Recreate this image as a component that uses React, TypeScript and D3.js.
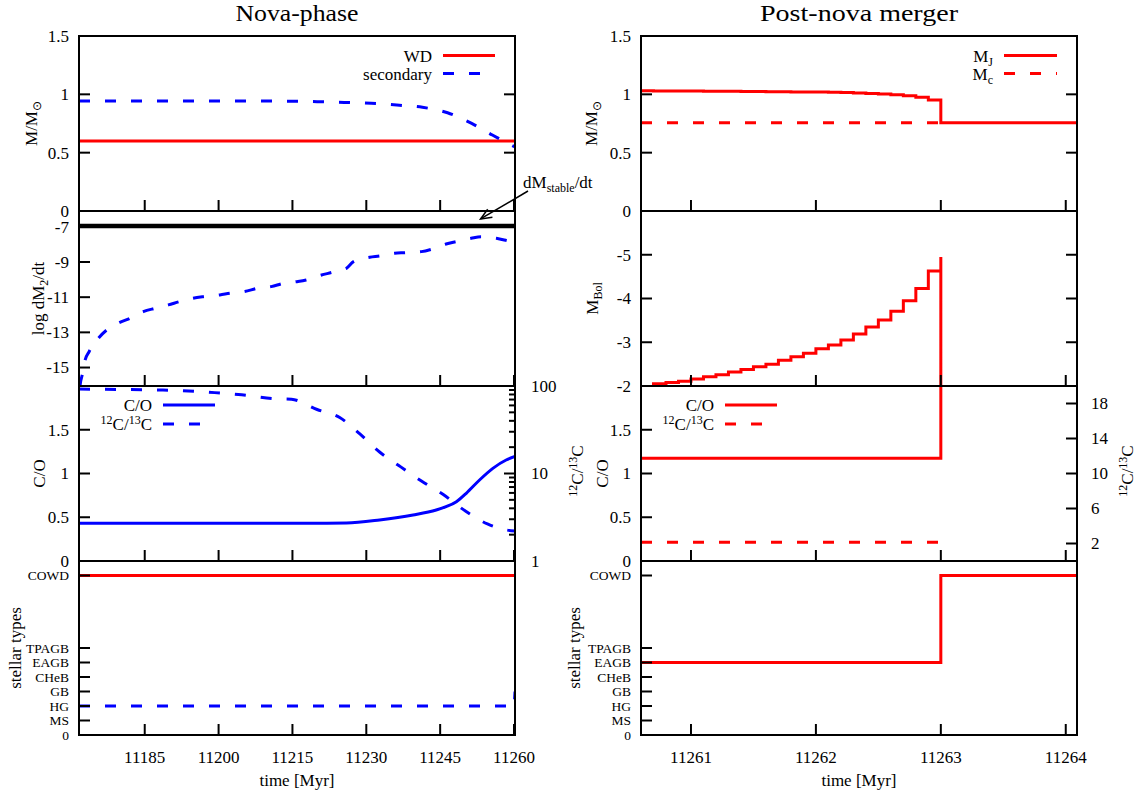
import React from 'react';
import * as d3 from 'd3';

// ---------- data ----------
const leftDomain = [11171.65, 11260.2];
const rightDomain = [11260.6, 11264.09];
const leftTimeTicks = [11185, 11200, 11215, 11230, 11245, 11260];
const rightTimeTicks = [11261, 11262, 11263, 11264];

const massTicks = [0, 0.5, 1, 1.5];
const massTickLabels = ['0', '0.5', '1', '1.5'];
const dmTicks = [-7, -9, -11, -13, -15];
const mbolTicks = [-5, -4, -3, -2];
const coTicks = [0, 0.5, 1, 1.5];
const coTickLabels = ['0', '0.5', '1', '1.5'];
const ratioLogTicks = [1, 10, 100];
const ratioLinTicks = [2, 6, 10, 14, 18];
const typeTicks = [0, 1, 2, 3, 4, 5, 6, 11];
const typeLabels = ['0', 'MS', 'HG', 'GB', 'CHeB', 'EAGB', 'TPAGB', 'COWD'];

// Nova phase: masses
const wdMassTime = [11171.65, 11260.2];
const wdMass = [0.6, 0.6];
const secMassTime = [11171.65, 11200, 11214.5, 11220, 11225.5, 11231.0, 11236.2, 11241.4, 11246.5, 11251.4, 11255.6, 11260.1];
const secMass = [0.943, 0.943, 0.941, 0.937, 0.931, 0.923, 0.908, 0.889, 0.842, 0.751, 0.651, 0.551];

// Nova phase: log dM2/dt and stable rate
const dmStableTime = [11171.65, 11260.2];
const dmStable = [-6.95, -6.95];
const dmTime = [11171.65, 11171.85, 11172.4, 11172.9, 11173.7, 11175.6, 11177.3, 11179.6, 11182.0, 11184.7, 11187.1, 11189.8, 11192.1, 11194.8, 11196.9, 11200.25, 11202.3, 11205.3, 11208.0, 11210.7, 11213.1, 11215.8, 11217.8, 11220.9, 11222.9, 11225.95, 11227.4, 11230.7, 11232.7, 11235.75, 11237.8, 11241.2, 11243.2, 11246.2, 11248.3, 11251.3, 11253.3, 11256.4, 11259.4, 11260.2];
const dmRate = [-17.5, -16.07, -15.32, -14.57, -14.1, -13.33, -12.86, -12.48, -12.2, -11.82, -11.63, -11.44, -11.25, -11.06, -10.97, -10.87, -10.78, -10.68, -10.49, -10.4, -10.22, -10.12, -10.02, -9.74, -9.6, -9.36, -8.98, -8.73, -8.66, -8.5, -8.47, -8.41, -8.28, -7.98, -7.84, -7.65, -7.56, -7.65, -7.84, -7.88];

// Nova phase: C/O and 12C/13C
const coTime = [11171.65, 11222.0, 11225.95, 11232.7, 11239.5, 11244.2, 11246.2, 11248.3, 11250.3, 11253.0, 11255.7, 11258.4, 11260.2];
const coRatio = [0.431, 0.431, 0.433, 0.469, 0.526, 0.583, 0.621, 0.678, 0.774, 0.926, 1.059, 1.154, 1.195];
const cRatioTime = [11171.65, 11173.9, 11188.7, 11199.2, 11204.7, 11211.4, 11214.8, 11220.0, 11224.6, 11228.7, 11232.7, 11237.0, 11241.2, 11245.7, 11250.2, 11254.6, 11258.5, 11260.2];
const cRatio = [92.4, 92, 90, 84, 79.3, 71.6, 70.6, 53.9, 43.6, 28.3, 17.6, 11.9, 8.2, 5.7, 3.7, 2.65, 2.26, 2.2];

// Nova phase: stellar types
const wdTypeTime = [11171.65, 11260.2];
const wdType = [11, 11];
const secTypeTime = [11171.65, 11260.05, 11260.2];
const secType = [2, 2, 3];

// Post-nova merger
const mjTime = [11260.6, 11260.7, 11260.8, 11260.9, 11261.0, 11261.1, 11261.2, 11261.3, 11261.4, 11261.5, 11261.6, 11261.7, 11261.8, 11261.9, 11262.0, 11262.1, 11262.2, 11262.3, 11262.4, 11262.5, 11262.6, 11262.7, 11262.8, 11262.9, 11263.0, 11264.09];
const mjMass = [1.030, 1.029, 1.029, 1.028, 1.028, 1.027, 1.026, 1.026, 1.025, 1.024, 1.023, 1.022, 1.021, 1.020, 1.019, 1.017, 1.015, 1.012, 1.008, 1.003, 0.997, 0.988, 0.974, 0.952, 0.757, 0.757];
const mcTime = [11260.6, 11263.0];
const mcMass = [0.757, 0.757];

const mbolTime = [11260.6, 11260.7, 11260.8, 11260.9, 11261.0, 11261.1, 11261.2, 11261.3, 11261.4, 11261.5, 11261.6, 11261.7, 11261.8, 11261.9, 11262.0, 11262.1, 11262.2, 11262.3, 11262.4, 11262.5, 11262.6, 11262.7, 11262.8, 11262.9, 11263.0, 11263.0];
const mbol = [-1.95, -2.05, -2.08, -2.11, -2.16, -2.21, -2.26, -2.32, -2.38, -2.44, -2.50, -2.59, -2.67, -2.75, -2.85, -2.94, -3.05, -3.19, -3.35, -3.51, -3.71, -3.95, -4.23, -4.63, -4.95, 12];

const mergerCoTime = [11260.6, 11263.0, 11263.0];
const mergerCo = [1.174, 1.174, 5];
const mergerCRatioTime = [11260.6, 11263.0];
const mergerCRatio = [2.15, 2.15];

const mergerTypeTime = [11260.6, 11263.0, 11263.0, 11264.09];
const mergerType = [5, 5, 11, 11];

// ---------- layout ----------
const FONT = '"Liberation Serif", "Times New Roman", Times, serif';
const RED = '#ff0000';
const BLUE = '#0000ff';
const DASH = '11,15';
const LX0 = 79, LX1 = 515, RX0 = 641, RX1 = 1077;
const ROWS = [36, 211, 386, 561, 735];
const TL = 11;

function path(ts: number[], vs: number[], x: any, y: any, curve: any = d3.curveLinear) {
  return d3.line<number>().x((_, i) => x(ts[i])).y((_, i) => y(vs[i])).curve(curve)(ts) || '';
}

export default function App() {
  const lx = d3.scaleLinear().domain(leftDomain).range([LX0, LX1]);
  const rx = d3.scaleLinear().domain(rightDomain).range([RX0, RX1]);
  const yMass = d3.scaleLinear().domain([0, 1.5]).range([ROWS[1], ROWS[0]]);
  const yDm = d3.scaleLinear().domain([-16.05, -6.1]).range([ROWS[2], ROWS[1]]);
  const yBol = d3.scaleLinear().domain([-2, -6]).range([ROWS[2], ROWS[1]]);
  const yCo = d3.scaleLinear().domain([0, 2]).range([ROWS[3], ROWS[2]]);
  const yLog = d3.scaleLog().domain([1, 100]).range([ROWS[3], ROWS[2]]);
  const yLin = d3.scaleLinear().domain([0, 20]).range([ROWS[3], ROWS[2]]);
  const yType = d3.scaleLinear().domain([0, 12]).range([ROWS[4], ROWS[3]]);

  const els: any[] = [];
  let k = 0;
  const key = () => 'k' + (k++);

  const tickLine = (x1: number, y1: number, x2: number, y2: number, w = 2) =>
    els.push(<line key={key()} x1={x1} y1={y1} x2={x2} y2={y2} stroke="#000" strokeWidth={w} />);

  const txt = (x: number, y: number, s: any, anchor = 'middle', size = 17, extra: any = {}) =>
    els.push(<text key={key()} x={x} y={y} textAnchor={anchor} fontSize={size} fontFamily={FONT} fill="#000" {...extra}>{s}</text>);

  const rot = (x: number, y: number, content: any, size = 17) =>
    els.push(<text key={key()} transform={`translate(${x},${y}) rotate(-90)`} textAnchor="middle" fontSize={size} fontFamily={FONT} fill="#000">{content}</text>);

  // x ticks (bottom of each panel, inward)
  for (let r = 1; r <= 4; r++) {
    leftTimeTicks.forEach(t => tickLine(lx(t), ROWS[r], lx(t), ROWS[r] - TL));
    rightTimeTicks.forEach(t => tickLine(rx(t), ROWS[r], rx(t), ROWS[r] - TL));
  }
  leftTimeTicks.forEach(t => txt(lx(t), 763, String(t)));
  rightTimeTicks.forEach(t => txt(rx(t), 763, String(t)));
  txt((LX0 + LX1) / 2, 786, 'time [Myr]');
  txt((RX0 + RX1) / 2, 786, 'time [Myr]');

  // titles
  txt((LX0 + LX1) / 2, 21, 'Nova-phase', 'middle', 24, { textLength: 123, lengthAdjust: 'spacingAndGlyphs' });
  txt((RX0 + RX1) / 2, 21, 'Post-nova merger', 'middle', 24, { textLength: 198, lengthAdjust: 'spacingAndGlyphs' });

  const yAxis = (y: any, vals: number[], labels: string[], x0: number, x1: number | null, size = 17) => {
    vals.forEach((v, i) => {
      tickLine(x0, y(v), x0 + TL, y(v));
      if (x1 !== null) tickLine(x1, y(v), x1 - TL, y(v));
      txt(x0 - 10, y(v), labels[i], 'end', size, { dy: '0.35em' });
    });
  };

  // row 1 mass
  yAxis(yMass, massTicks, massTickLabels, LX0, LX1);
  yAxis(yMass, massTicks, massTickLabels, RX0, RX1);
  // row 2
  yAxis(yDm, dmTicks, dmTicks.map(String), LX0, null);
  yAxis(yBol, mbolTicks, mbolTicks.map(String), RX0, RX1);
  // row 3
  yAxis(yCo, coTicks, coTickLabels, LX0, null);
  yAxis(yCo, coTicks, coTickLabels, RX0, null);
  ratioLogTicks.forEach(v => {
    tickLine(LX1, yLog(v), LX1 - TL, yLog(v));
    txt(LX1 + 16, yLog(v), String(v), 'start', 17, { dy: '0.35em' });
  });
  [2, 3, 4, 5, 6, 7, 8, 9, 20, 30, 40, 50, 60, 70, 80, 90].forEach(v => tickLine(LX1, yLog(v), LX1 - 6, yLog(v)));
  ratioLinTicks.forEach(v => {
    tickLine(RX1, yLin(v), RX1 - TL, yLin(v));
    txt(RX1 + 14, yLin(v), String(v), 'start', 17, { dy: '0.35em' });
  });
  // row 4
  yAxis(yType, typeTicks, typeLabels, LX0, null, 13.5);
  yAxis(yType, typeTicks, typeLabels, RX0, null, 13.5);

  // y labels
  rot(37, 123.5, [<tspan key="a">M/M</tspan>, <tspan key="b" fontSize={12} dy={4}>⊙</tspan>]);
  rot(597, 123.5, [<tspan key="a">M/M</tspan>, <tspan key="b" fontSize={12} dy={4}>⊙</tspan>]);
  rot(44, 298.5, [<tspan key="a">log dM</tspan>, <tspan key="b" fontSize={12} dy={4}>2</tspan>, <tspan key="c" dy={-4}>/dt</tspan>]);
  rot(598, 298.5, [<tspan key="a">M</tspan>, <tspan key="b" fontSize={12} dy={4}>Bol</tspan>]);
  rot(45, 473.5, 'C/O');
  rot(608, 473.5, 'C/O');
  const c1213 = () => [<tspan key="a" fontSize={12} dy={-6}>12</tspan>, <tspan key="b" dy={6}>C/</tspan>, <tspan key="c" fontSize={12} dy={-6}>13</tspan>, <tspan key="d" dy={6}>C</tspan>];
  rot(583, 471, c1213());
  rot(1133, 471, c1213());
  rot(21, 648, 'stellar types');
  rot(580, 648, 'stellar types');

  // clip paths
  const panels = [
    [LX0, LX1, 0], [LX0, LX1, 1], [LX0, LX1, 2], [LX0, LX1, 3],
    [RX0, RX1, 0], [RX0, RX1, 1], [RX0, RX1, 2], [RX0, RX1, 3],
  ];

  const series = (id: string, d: string, color: string, dashed = false, w = 3) =>
    <path key={key()} d={d} fill="none" stroke={color} strokeWidth={w} strokeDasharray={dashed ? DASH : undefined} clipPath={`url(#${id})`} />;

  const data: any[] = [];
  // left
  data.push(series('c0', path(wdMassTime, wdMass, lx, yMass), RED));
  data.push(series('c0', path(secMassTime, secMass, lx, yMass, d3.curveMonotoneX), BLUE, true));
  data.push(series('c1', path(dmStableTime, dmStable, lx, yDm), '#000', false, 4.5));
  data.push(series('c1', path(dmTime, dmRate, lx, yDm, d3.curveMonotoneX), BLUE, true));
  data.push(series('c2', path(coTime, coRatio, lx, yCo, d3.curveMonotoneX), BLUE));
  data.push(series('c2', path(cRatioTime, cRatio, lx, yLog, d3.curveMonotoneX), BLUE, true));
  data.push(series('c3', path(wdTypeTime, wdType, lx, yType), RED));
  data.push(series('c3', path(secTypeTime, secType, lx, yType), BLUE, true));
  // right
  data.push(series('c4', path(mjTime, mjMass, rx, yMass, d3.curveStepAfter), RED));
  data.push(series('c4', path(mcTime, mcMass, rx, yMass), RED, true));
  data.push(series('c5', path(mbolTime, mbol, rx, yBol, d3.curveStepAfter), RED));
  data.push(series('c6', path(mergerCoTime, mergerCo, rx, yCo), RED));
  data.push(series('c6', path(mergerCRatioTime, mergerCRatio, rx, yLin), RED, true));
  data.push(series('c7', path(mergerTypeTime, mergerType, rx, yType), RED));

  // legends
  const legend = (textRight: number, lineX0: number, lineX1: number, yc: number, label: any, color: string, dashed: boolean) => {
    els.push(<text key={key()} x={textRight} y={yc + 6} textAnchor="end" fontSize={17} fontFamily={FONT}>{label}</text>);
    els.push(<line key={key()} x1={lineX0} x2={lineX1} y1={yc} y2={yc} stroke={color} strokeWidth={3} strokeDasharray={dashed ? DASH : undefined} />);
  };
  legend(LX1 - 83, LX1 - 72, LX1 - 20, ROWS[0] + 19.5, 'WD', RED, false);
  legend(LX1 - 83, LX1 - 72, LX1 - 20, ROWS[0] + 37.5, 'secondary', BLUE, true);
  legend(RX1 - 84, RX1 - 73, RX1 - 20, ROWS[0] + 19.5, [<tspan key="a">M</tspan>, <tspan key="b" fontSize={12} dy={4}>J</tspan>], RED, false);
  legend(RX1 - 84, RX1 - 73, RX1 - 20, ROWS[0] + 37.5, [<tspan key="a">M</tspan>, <tspan key="b" fontSize={12} dy={4}>c</tspan>], RED, true);
  legend(LX0 + 73, LX0 + 84, LX0 + 136, ROWS[2] + 19, 'C/O', BLUE, false);
  legend(LX0 + 73, LX0 + 84, LX0 + 136, ROWS[2] + 38, c1213(), BLUE, true);
  legend(RX0 + 73, RX0 + 84, RX0 + 136, ROWS[2] + 19, 'C/O', RED, false);
  legend(RX0 + 73, RX0 + 84, RX0 + 136, ROWS[2] + 38, c1213(), RED, true);

  // annotation dM_stable/dt
  els.push(<text key={key()} x={523} y={188} fontSize={17} fontFamily={FONT}>dM<tspan fontSize={12} dy={4}>stable</tspan><tspan dy={-4}>/dt</tspan></text>);
  const ax0 = 528, ay0 = 191, ax1 = lx(11253.2), ay1 = yDm(-6.95) - 7;
  const ang = Math.atan2(ay0 - ay1, ax0 - ax1);
  const hl = 12, ha = 0.4;
  els.push(<line key={key()} x1={ax0} y1={ay0} x2={ax1} y2={ay1} stroke="#000" strokeWidth={1.5} />);
  els.push(<path key={key()} d={`M${ax1 + hl * Math.cos(ang + ha)},${ay1 + hl * Math.sin(ang + ha)}L${ax1},${ay1}L${ax1 + hl * Math.cos(ang - ha)},${ay1 + hl * Math.sin(ang - ha)}`} fill="none" stroke="#000" strokeWidth={1.5} />);

  return (
    <svg width={1144} height={798} style={{ display: 'block', position: 'absolute', left: 0, top: 0, background: '#fff' }}>
      <rect x={0} y={0} width={1144} height={798} fill="#fff" />
      <defs>
        {panels.map((p, i) => (
          <clipPath key={i} id={`c${i}`}>
            <rect x={p[0]} y={ROWS[p[2]]} width={p[1] - p[0]} height={ROWS[p[2] + 1] - ROWS[p[2]]} />
          </clipPath>
        ))}
      </defs>
      {data}
      {els}
      {panels.map((p, i) => (
        <rect key={'b' + i} x={p[0]} y={ROWS[p[2]]} width={p[1] - p[0]} height={ROWS[p[2] + 1] - ROWS[p[2]]} fill="none" stroke="#000" strokeWidth={2} />
      ))}
    </svg>
  );
}
